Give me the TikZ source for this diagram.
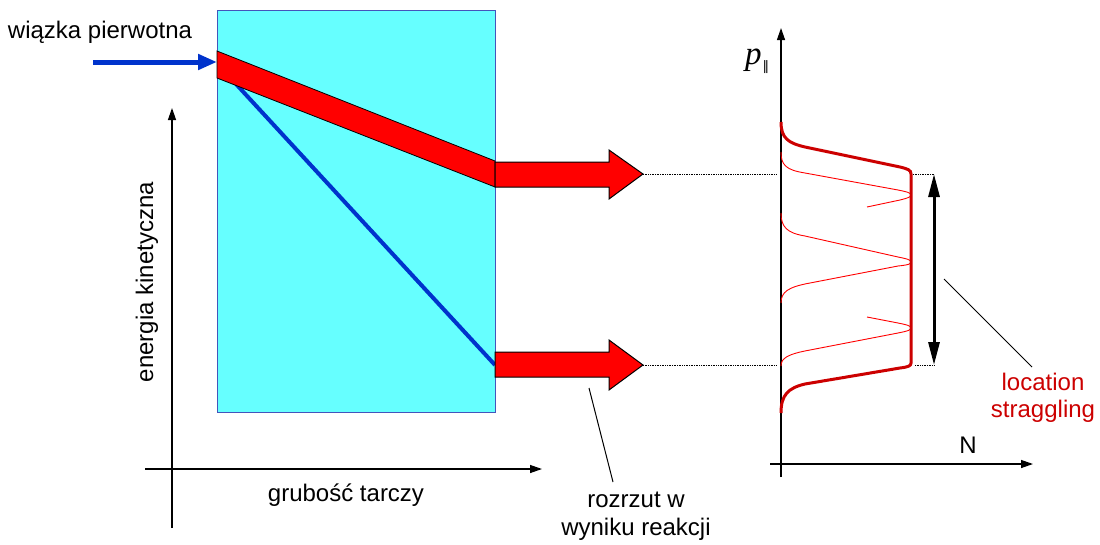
\documentclass[tikz,border=0pt]{standalone}
\usepackage{fontspec}
\setmainfont{Liberation Sans}
\newfontfamily\serifit{Liberation Serif}
\newfontfamily\symfont{DejaVu Sans}
\usepackage{xcolor}
\definecolor{targetcyan}{RGB}{102,255,255}
\definecolor{targetedge}{RGB}{68,85,187}
\definecolor{beamblue}{RGB}{0,51,204}
\definecolor{beamred}{RGB}{255,0,0}
\definecolor{profilered}{RGB}{204,0,0}
\usepackage{tikz}
\usetikzlibrary{arrows.meta,positioning}

\begin{document}
\begin{tikzpicture}[x=1pt, y=-1pt, every node/.style={font=\fontsize{24}{27.5}\selectfont, inner sep=0pt},
  axis/.style={line width=1.3pt, -{Triangle[length=12pt,width=8pt]}},
  redarrow/.style={fill=beamred, draw=black, line width=1pt},
  guide/.style={densely dotted, line width=0.7pt},
  pointer/.style={line width=1pt}]
  \useasboundingbox (0,0) rectangle (1100,544);

  % target and the beam passing through it
  \node[draw=targetedge, fill=targetcyan, line width=1.2pt, minimum width=278pt, minimum height=402pt, anchor=north west] (target) at (217,10) {};
  \draw[beamblue, line width=4pt] (236,84) -- (495,365);
  \draw[fill=beamred, draw=black, line width=0.8pt] (217,51) -- (495,161) -- (495,187) -- (217,78) -- cycle;
  \node (beamlabel) at (100,32) {wiązka pierwotna};
  \coordinate (beamstart) at (93,62);
  \draw[beamblue, line width=5pt, -{Triangle[length=19pt,width=15pt]}] (beamstart) -- (target.west |- beamstart);

  % left axes
  \draw[axis] (172,528) -- (172,108);
  \draw[axis] (145,469) -- (542,469);
  \node[rotate=90] (energylabel) at (147,282) {energia kinetyczna};
  \node (thicklabel) at (346,495) {grubość tarczy};

  % outgoing arrows
  \draw[redarrow] (495,162) -- (609,162) -- (609,150) -- (643,174) -- (609,199) -- (609,187) -- (495,187) -- cycle;
  \draw[redarrow] (495,352) -- (609,352) -- (609,340) -- (643,365) -- (609,390) -- (609,377) -- (495,377) -- cycle;
  \coordinate (tiphigh) at (643,174);
  \coordinate (tiplow) at (643,365);
  \draw[guide] (tiphigh) -- (777,174);
  \draw[guide] (tiplow) -- (777,365);
  \node[align=center] (spreadlabel) at (636,516) {rozrzut w\\wyniku reakcji};
  \coordinate (spreadfoot) at (589,388);
  \draw[pointer] (spreadfoot) -- (613,482);

  % right axes
  \draw[axis] (781,477) -- (781,28);
  \draw[axis] (770,464) -- (1033,464);
  \node (plabel) at (757,61) {\serifit\fontsize{33}{35}\selectfont\itshape p\kern1pt\raisebox{-6pt}{\symfont\fontsize{13}{13}\selectfont ‖}};
  \node (nlabel) at (968,445) {N};

  % single peaks
  \draw[beamred, line width=0.9pt] (781,152) .. controls (781,165) and (786,170) .. (805,173) -- (898,190) .. controls (908,192) and (911,193) .. (911,195) .. controls (911,197) and (908,198) .. (900,200) -- (867,207);
  \draw[beamred, line width=0.9pt] (781,213) .. controls (781,227) and (787,233) .. (805,236) -- (898,257) .. controls (908,259) and (911,260) .. (911,262) .. controls (911,264) and (908,265) .. (898,266) -- (810,283) .. controls (788,287) and (781,292) .. (781,303);
  \draw[beamred, line width=0.9pt] (867,317) -- (898,323) .. controls (908,325) and (911,326) .. (911,328) .. controls (911,330) and (908,331) .. (898,333) -- (810,350) .. controls (788,354) and (781,358) .. (781,366);
  % summed profile
  \draw[profilered, line width=3pt] (781,122) .. controls (781,138) and (788,143) .. (805,147) -- (900,167) .. controls (908,169) and (911,170) .. (911,174) -- (911,363) .. controls (911,366) and (908,367) .. (900,368) -- (805,384) .. controls (788,388) and (781,395) .. (781,413);

  % width of the profile
  \draw[guide] (913,174) -- (935,174);
  \draw[guide] (915,365) -- (935,365);
  \draw[line width=3pt, {Triangle[length=23pt,width=11pt]}-{Triangle[length=23pt,width=11pt]}] (934,174) -- (934,365);
  \node[align=center, text=profilered] (stragglabel) at (1043,398) {location\\straggling};
  \coordinate (straggfoot) at (944,279);
  \draw[pointer] (straggfoot) -- (1032,367);
\end{tikzpicture}
\end{document}
